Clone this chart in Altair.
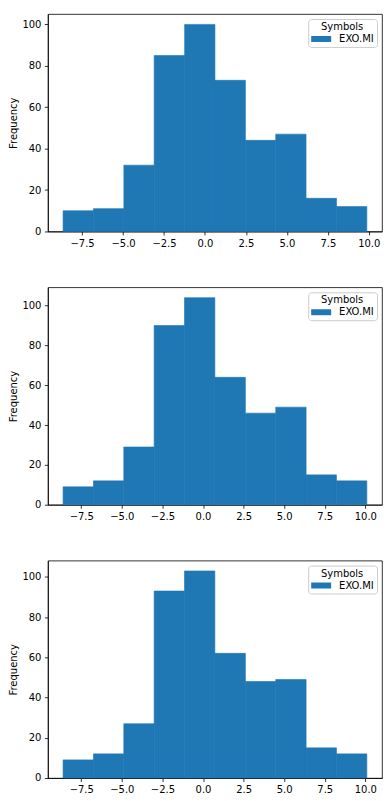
import altair as alt
import pandas as pd

symbol = "EXO.MI"
edges_1 = [-8.66, -6.81, -4.95, -3.10, -1.24, 0.61, 2.47, 4.32, 6.17, 8.03, 9.88]
counts_1 = [10, 11, 32, 85, 100, 73, 44, 47, 16, 12]
edges_2 = [-8.62, -6.75, -4.88, -3.01, -1.14, 0.73, 2.61, 4.48, 6.35, 8.22, 10.09]
counts_2 = [9, 12, 29, 90, 104, 64, 46, 49, 15, 12]
edges_3 = [-8.62, -6.75, -4.88, -3.01, -1.14, 0.73, 2.61, 4.48, 6.35, 8.22, 10.09]
counts_3 = [9, 12, 27, 93, 103, 62, 48, 49, 15, 12]
x_ticks = [-7.5, -5.0, -2.5, 0.0, 2.5, 5.0, 7.5, 10.0]
y_ticks = [0, 20, 40, 60, 80, 100]

FONT = "DejaVu Sans"
BLUE = "#1f77b4"


def panel(edges, counts):
    df = pd.DataFrame({
        "bin_start": edges[:-1],
        "bin_end": edges[1:],
        "count": counts,
        "base": [0] * len(counts),
        "symbol": [symbol] * len(counts),
    })
    lo, hi = edges[0], edges[-1]
    pad = 0.05 * (hi - lo)
    ymax = max(counts) * 1.05
    return alt.Chart(df).mark_rect(stroke=BLUE, strokeWidth=0.6).encode(
        x=alt.X("bin_start:Q",
                scale=alt.Scale(domain=[lo - pad, hi + pad], nice=False, zero=False),
                axis=alt.Axis(values=x_ticks, format=".1f", title=None,
                              minExtent=17, maxExtent=17)),
        x2="bin_end:Q",
        y=alt.Y("count:Q",
                scale=alt.Scale(domain=[0, ymax], nice=False),
                axis=alt.Axis(values=y_ticks, format="d", title="Frequency", titlePadding=3,
                              minExtent=26, maxExtent=26)),
        y2="base:Q",
        color=alt.Color("symbol:N",
                        scale=alt.Scale(domain=[symbol], range=[BLUE]),
                        legend=alt.Legend(
                            title="Symbols", orient="top-right", offset=5,
                            strokeColor="#cccccc", fillColor="white", cornerRadius=3,
                            padding=3, titleAnchor="middle", titleFontWeight="normal",
                            titleFontSize=10, labelFontSize=10, titleFont=FONT, labelFont=FONT,
                            titleColor="black", labelColor="black",
                            symbolType="M-1,-0.6H3V0.6H-1Z", symbolSize=100,
                            symbolStrokeWidth=0, symbolOpacity=1, labelOffset=18,
                            titlePadding=2)),
    ).properties(width=335, height=218)


chart = alt.vconcat(
    panel(edges_1, counts_1),
    panel(edges_2, counts_2),
    panel(edges_3, counts_3),
    spacing=37,
).resolve_scale(
    color="independent"
).resolve_legend(
    color="independent"
).properties(
    padding={"left": 0, "top": 4, "right": 0, "bottom": 0}
).configure_axis(
    labelFont=FONT, labelFontSize=10, labelColor="black",
    titleFont=FONT, titleFontSize=10, titleFontWeight="normal", titleColor="black",
    tickColor="black", tickSize=3.5, tickWidth=0.8,
    domainColor="black", domainWidth=0.8, grid=False, labelPadding=3.5,
).configure_view(
    stroke="black", strokeWidth=0.8
)

chart.save("out.html", embed_options={"renderer": "svg", "actions": False})
